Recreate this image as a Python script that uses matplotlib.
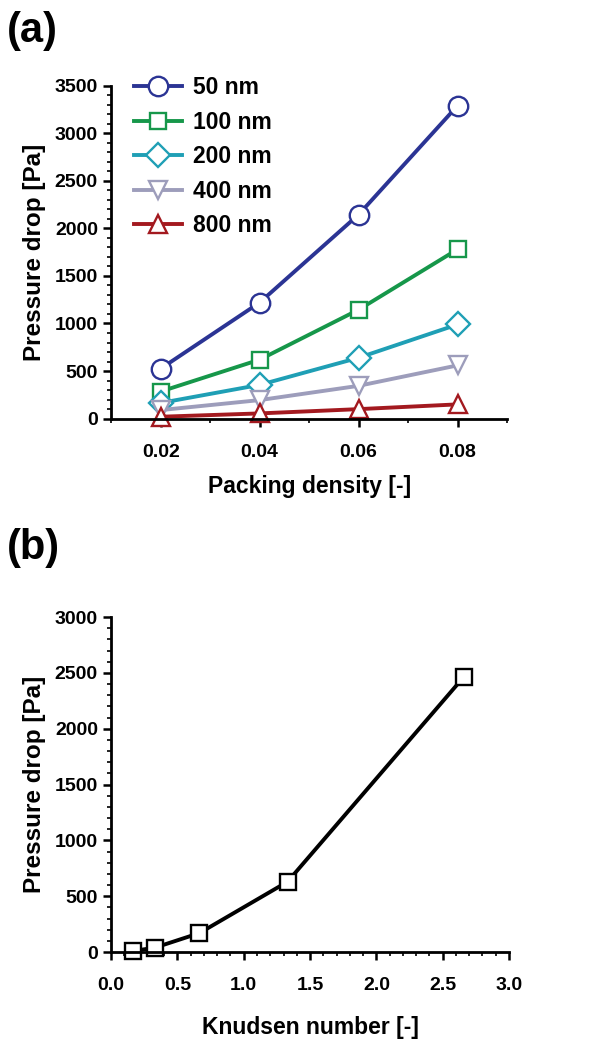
import numpy as np
import matplotlib
matplotlib.use("Agg")
import matplotlib.pyplot as plt
from matplotlib.ticker import MultipleLocator

plt.rcParams['font.family'] = ['Liberation Sans', 'DejaVu Sans']
plt.rcParams['font.weight'] = 'bold'

# panel (a): pressure drop vs packing density for several fiber diameters
packing = [0.02, 0.04, 0.06, 0.08]
labels_a = ["50 nm", "100 nm", "200 nm", "400 nm", "800 nm"]
dp_50 = [525, 1220, 2145, 3290]
dp_100 = [285, 620, 1145, 1780]
dp_200 = [165, 355, 640, 990]
dp_400 = [90, 195, 345, 560]
dp_800 = [20, 55, 100, 150]
series_a = [dp_50, dp_100, dp_200, dp_400, dp_800]
colors_a = ["#2b3494", "#16974a", "#1f9fb5", "#9d9dbb", "#a3191f"]
markers_a = ["o", "s", "D", "v", "^"]
msizes_a = [14, 12, 12, 13, 13]

# panel (b): pressure drop vs Knudsen number
knudsen = [0.166, 0.33, 0.665, 1.33, 2.66]
dp_kn = [10, 40, 170, 630, 2465]


def style_axes(ax):
    for s in ["top", "right"]:
        ax.spines[s].set_visible(False)
    for s in ["left", "bottom"]:
        ax.spines[s].set_linewidth(2)
    ax.tick_params(which="major", direction="out", length=6, width=1.8, labelsize=14)
    ax.tick_params(which="minor", direction="out", length=3, width=1.2)
    for lab in ax.get_xticklabels() + ax.get_yticklabels():
        lab.set_fontweight("bold")


fig = plt.figure(figsize=(6.14, 10.44), dpi=100)

ax1 = fig.add_axes([0.181, 0.599, 0.645, 0.319])
for y, lab, c, m, ms in zip(series_a, labels_a, colors_a, markers_a, msizes_a):
    ax1.plot(packing, y, color=c, lw=2.8, marker=m, ms=ms, mfc="white",
             mec=c, mew=1.7, label=lab, clip_on=False)
ax1.set_xlim(0.01, 0.09)
ax1.set_ylim(0, 3500)
ax1.xaxis.set_minor_locator(MultipleLocator(0.01))
ax1.set_xticks(packing)
ax1.yaxis.set_major_locator(MultipleLocator(500))
ax1.yaxis.set_minor_locator(MultipleLocator(100))
ax1.set_xticklabels(["0.02", "0.04", "0.06", "0.08"])
style_axes(ax1)
ax1.tick_params(axis="x", pad=12)
ax1.set_xlabel("Packing density [-]", fontsize=16.5, fontweight="bold", labelpad=10)
ax1.set_ylabel("Pressure drop [Pa]", fontsize=17.5, fontweight="bold", labelpad=6)
ax1.legend(loc="upper left", bbox_to_anchor=(0.005, 1.09), frameon=False,
           prop={"size": 16.5, "weight": "bold"}, handlelength=2.1,
           labelspacing=0.5, handletextpad=0.5)
fig.text(0.012, 0.96, "(a)", fontsize=30, fontweight="bold")

ax2 = fig.add_axes([0.181, 0.088, 0.648, 0.321])
ax2.plot(knudsen, dp_kn, color="black", lw=2.8, marker="s", ms=12,
         mfc="white", mec="black", mew=1.7, clip_on=False)
ax2.set_xlim(0, 3.0)
ax2.set_ylim(0, 3000)
ax2.xaxis.set_major_locator(MultipleLocator(0.5))
ax2.xaxis.set_minor_locator(MultipleLocator(0.1))
ax2.yaxis.set_major_locator(MultipleLocator(500))
ax2.yaxis.set_minor_locator(MultipleLocator(100))
ax2.xaxis.set_major_formatter(plt.FormatStrFormatter("%.1f"))
style_axes(ax2)
ax2.tick_params(axis="x", pad=12)
ax2.set_xlabel("Knudsen number [-]", fontsize=16.5, fontweight="bold", labelpad=16)
ax2.set_ylabel("Pressure drop [Pa]", fontsize=17.5, fontweight="bold", labelpad=6)
fig.text(0.012, 0.465, "(b)", fontsize=30, fontweight="bold")

fig.savefig("out.png", dpi=100)
